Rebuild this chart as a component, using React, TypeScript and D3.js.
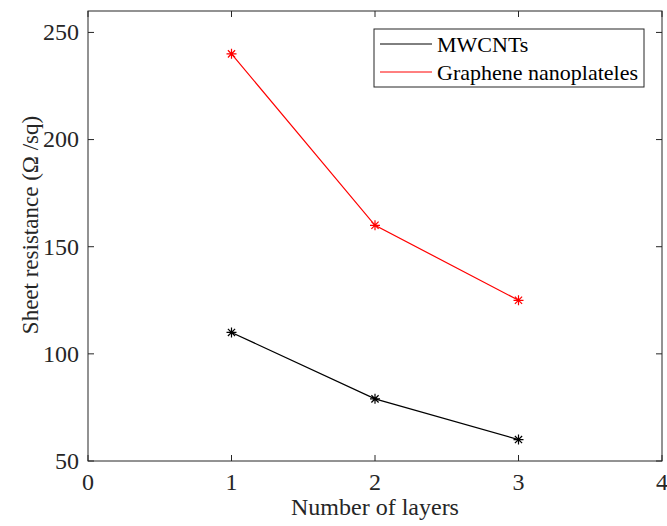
import React from "react";
import * as d3 from "d3";

const layers = [1, 2, 3];
const mwcnts = [110, 79, 60];
const graphene = [240, 160, 125];
const xTicks = [0, 1, 2, 3, 4];
const yTicks = [50, 100, 150, 200, 250];
const seriesNames = ["MWCNTs", "Graphene nanoplateles"];
const seriesColors = ["#000000", "#ff0000"];

const App = () => {
  const svgRef = React.useRef<SVGSVGElement>(null);
  const width = 667;
  const height = 526;
  const margin = { left: 88, right: 5, top: 11, bottom: 65 };

  React.useEffect(() => {
    const svgEl = d3.select(svgRef.current);
    svgEl.selectAll("*").remove();
    const w = width - margin.left - margin.right;
    const h = height - margin.top - margin.bottom;
    const font = "'Liberation Serif', 'Times New Roman', serif";
    const axisColor = "#262626";

    const x = d3.scaleLinear().domain([0, 4]).range([0, w]);
    const y = d3.scaleLinear().domain([50, 260]).range([h, 0]);

    const g = svgEl
      .append("g")
      .attr("transform", `translate(${margin.left},${margin.top})`);

    // box
    g.append("rect")
      .attr("width", w)
      .attr("height", h)
      .attr("fill", "white")
      .attr("stroke", axisColor)
      .attr("stroke-width", 1);

    const tickLen = 6;
    // x ticks (bottom and top, inward)
    xTicks.forEach((t) => {
      g.append("line")
        .attr("x1", x(t)).attr("x2", x(t))
        .attr("y1", h).attr("y2", h - tickLen)
        .attr("stroke", axisColor);
      g.append("line")
        .attr("x1", x(t)).attr("x2", x(t))
        .attr("y1", 0).attr("y2", tickLen)
        .attr("stroke", axisColor);
      g.append("text")
        .attr("x", x(t))
        .attr("y", h + 29)
        .attr("text-anchor", "middle")
        .attr("font-family", font)
        .attr("font-size", 24)
        .attr("fill", axisColor)
        .text(t);
    });
    // y ticks (left and right, inward)
    yTicks.forEach((t) => {
      g.append("line")
        .attr("x1", 0).attr("x2", tickLen)
        .attr("y1", y(t)).attr("y2", y(t))
        .attr("stroke", axisColor);
      g.append("line")
        .attr("x1", w).attr("x2", w - tickLen)
        .attr("y1", y(t)).attr("y2", y(t))
        .attr("stroke", axisColor);
      g.append("text")
        .attr("x", -9)
        .attr("y", y(t))
        .attr("dy", "0.33em")
        .attr("text-anchor", "end")
        .attr("font-family", font)
        .attr("font-size", 24)
        .attr("fill", axisColor)
        .text(t);
    });

    // axis labels
    g.append("text")
      .attr("x", w / 2)
      .attr("y", h + 54)
      .attr("text-anchor", "middle")
      .attr("font-family", font)
      .attr("font-size", 24)
      .attr("fill", axisColor)
      .text("Number of layers");
    g.append("text")
      .attr("transform", `translate(${-50},${h / 2 - 11}) rotate(-90)`)
      .attr("text-anchor", "middle")
      .attr("font-family", font)
      .attr("font-size", 23)
      .attr("fill", axisColor)
      .text("Sheet resistance (\u03A9 /sq)");

    // lines
    const line = d3
      .line<number>()
      .x((d, i) => x(layers[i]))
      .y((d) => y(d));

    const series = [mwcnts, graphene];
    const r = 5;
    series.forEach((vals, si) => {
      g.append("path")
        .attr("d", line(vals))
        .attr("fill", "none")
        .attr("stroke", seriesColors[si])
        .attr("stroke-width", 1.2);
      vals.forEach((v, i) => {
        const cx = x(layers[i]);
        const cy = y(v);
        const d = r * 0.72;
        const path = `M${cx - r},${cy}L${cx + r},${cy}M${cx},${cy - r}L${cx},${cy + r}` +
          `M${cx - d},${cy - d}L${cx + d},${cy + d}M${cx - d},${cy + d}L${cx + d},${cy - d}`;
        g.append("path")
          .attr("d", path)
          .attr("stroke", seriesColors[si])
          .attr("stroke-width", 1.2)
          .attr("fill", "none");
      });
    });

    // legend
    const lg = g.append("g").attr("transform", `translate(${x(0) + 286},18)`);
    lg.append("rect")
      .attr("width", 270)
      .attr("height", 58)
      .attr("fill", "white")
      .attr("stroke", axisColor);
    seriesNames.forEach((name, i) => {
      const ly = 15 + i * 28;
      lg.append("line")
        .attr("x1", 6).attr("x2", 58)
        .attr("y1", ly).attr("y2", ly)
        .attr("stroke", seriesColors[i])
        .attr("stroke-width", 1);
      lg.append("text")
        .attr("x", 63)
        .attr("y", ly)
        .attr("dy", "0.35em")
        .attr("font-family", font)
        .attr("font-size", 22)
        .attr("fill", "#000")
        .text(name);
    });
  }, []);

  return (
    <svg
      ref={svgRef}
      width={width}
      height={height}
      style={{ position: "absolute", left: 0, top: 0, background: "white" }}
    />
  );
};

export default App;
